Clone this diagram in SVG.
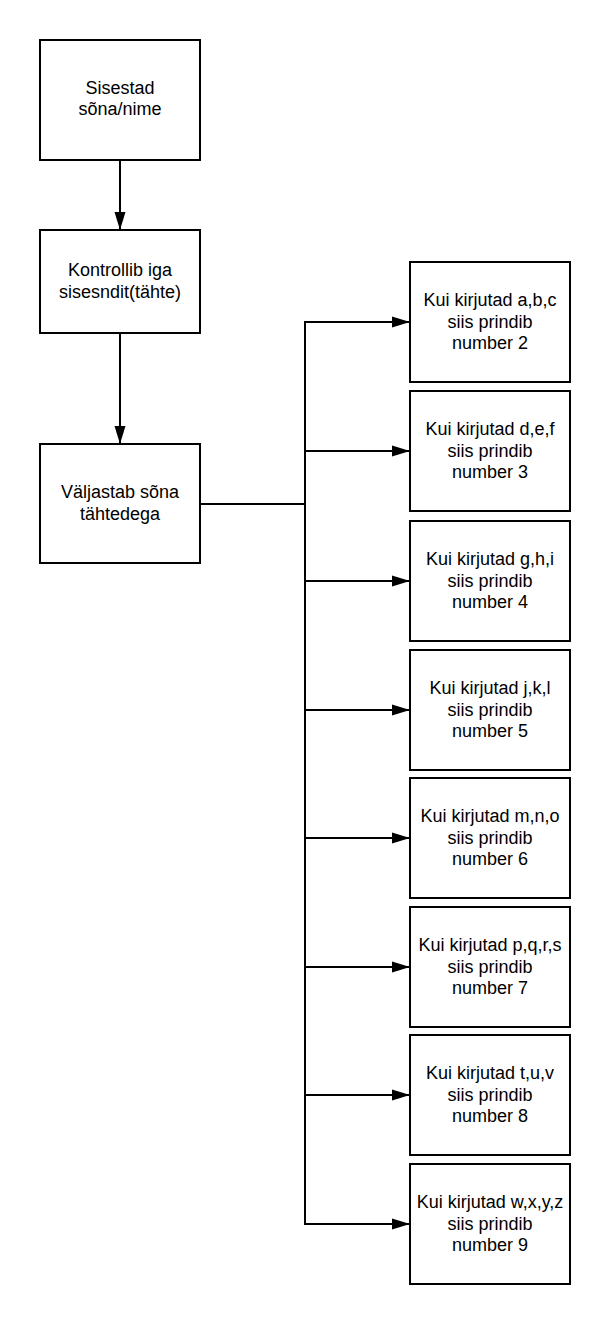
<svg xmlns="http://www.w3.org/2000/svg" width="611" height="1325" viewBox="0 0 611 1325">
<style>
.box{fill:#fff;stroke:#000;stroke-width:2}
.t{font-family:"Liberation Sans",Arial,sans-serif;font-size:18px;fill:#000;text-anchor:middle}
.c{fill:none;stroke:#000;stroke-width:2}
</style>
<defs>
<marker id="ah" markerUnits="userSpaceOnUse" markerWidth="19" markerHeight="12" refX="18" refY="5.5" orient="auto" viewBox="0 0 19 11">
<path d="M0,0 L18,5.5 L0,11 Z" fill="#000"/>
</marker>
</defs>
<rect width="611" height="1325" fill="#fff"/>
<g id="connectors">
<line class="c" x1="120" y1="160" x2="120" y2="230" marker-end="url(#ah)"/>
<line class="c" x1="120" y1="333" x2="120" y2="444" marker-end="url(#ah)"/>
<polyline class="c" points="200,504 305,504"/>
<line class="c" x1="305" y1="321" x2="305" y2="1225"/>
<line class="c" x1="304" y1="322" x2="410" y2="322" marker-end="url(#ah)"/>
<line class="c" x1="304" y1="451" x2="410" y2="451" marker-end="url(#ah)"/>
<line class="c" x1="304" y1="581" x2="410" y2="581" marker-end="url(#ah)"/>
<line class="c" x1="304" y1="710" x2="410" y2="710" marker-end="url(#ah)"/>
<line class="c" x1="304" y1="838" x2="410" y2="838" marker-end="url(#ah)"/>
<line class="c" x1="304" y1="967" x2="410" y2="967" marker-end="url(#ah)"/>
<line class="c" x1="304" y1="1095" x2="410" y2="1095" marker-end="url(#ah)"/>
<line class="c" x1="304" y1="1224" x2="410" y2="1224" marker-end="url(#ah)"/>
</g>
<g id="n1"><rect class="box" x="40" y="40" width="160" height="120"/>
<text class="t" x="120" y="94">Sisestad</text><text class="t" x="120" y="115">sõna/nime</text></g>
<g id="n2"><rect class="box" x="40" y="230" width="160" height="103"/>
<text class="t" x="120" y="276">Kontrollib iga</text><text class="t" x="120" y="297.5">sisesndit(tähte)</text></g>
<g id="n3"><rect class="box" x="40" y="444" width="160" height="119"/>
<text class="t" x="120" y="498">Väljastab sõna</text><text class="t" x="120" y="519.5">tähtedega</text></g>
<g id="r1"><rect class="box" x="410" y="262" width="160" height="120"/>
<text class="t" x="490" y="306">Kui kirjutad a,b,c</text><text class="t" x="490" y="327.5">siis prindib</text><text class="t" x="490" y="349">number 2</text></g>
<g id="r2"><rect class="box" x="410" y="391" width="160" height="120"/>
<text class="t" x="490" y="435">Kui kirjutad d,e,f</text><text class="t" x="490" y="456.5">siis prindib</text><text class="t" x="490" y="478">number 3</text></g>
<g id="r3"><rect class="box" x="410" y="521" width="160" height="120"/>
<text class="t" x="490" y="565">Kui kirjutad g,h,i</text><text class="t" x="490" y="586.5">siis prindib</text><text class="t" x="490" y="608">number 4</text></g>
<g id="r4"><rect class="box" x="410" y="650" width="160" height="120"/>
<text class="t" x="490" y="694">Kui kirjutad j,k,l</text><text class="t" x="490" y="715.5">siis prindib</text><text class="t" x="490" y="737">number 5</text></g>
<g id="r5"><rect class="box" x="410" y="778" width="160" height="120"/>
<text class="t" x="490" y="822">Kui kirjutad m,n,o</text><text class="t" x="490" y="843.5">siis prindib</text><text class="t" x="490" y="865">number 6</text></g>
<g id="r6"><rect class="box" x="410" y="907" width="160" height="120"/>
<text class="t" x="490" y="951">Kui kirjutad p,q,r,s</text><text class="t" x="490" y="972.5">siis prindib</text><text class="t" x="490" y="994">number 7</text></g>
<g id="r7"><rect class="box" x="410" y="1035" width="160" height="120"/>
<text class="t" x="490" y="1079">Kui kirjutad t,u,v</text><text class="t" x="490" y="1100.5">siis prindib</text><text class="t" x="490" y="1122">number 8</text></g>
<g id="r8"><rect class="box" x="410" y="1164" width="160" height="120"/>
<text class="t" x="490" y="1208">Kui kirjutad w,x,y,z</text><text class="t" x="490" y="1229.5">siis prindib</text><text class="t" x="490" y="1251">number 9</text></g>
</svg>
